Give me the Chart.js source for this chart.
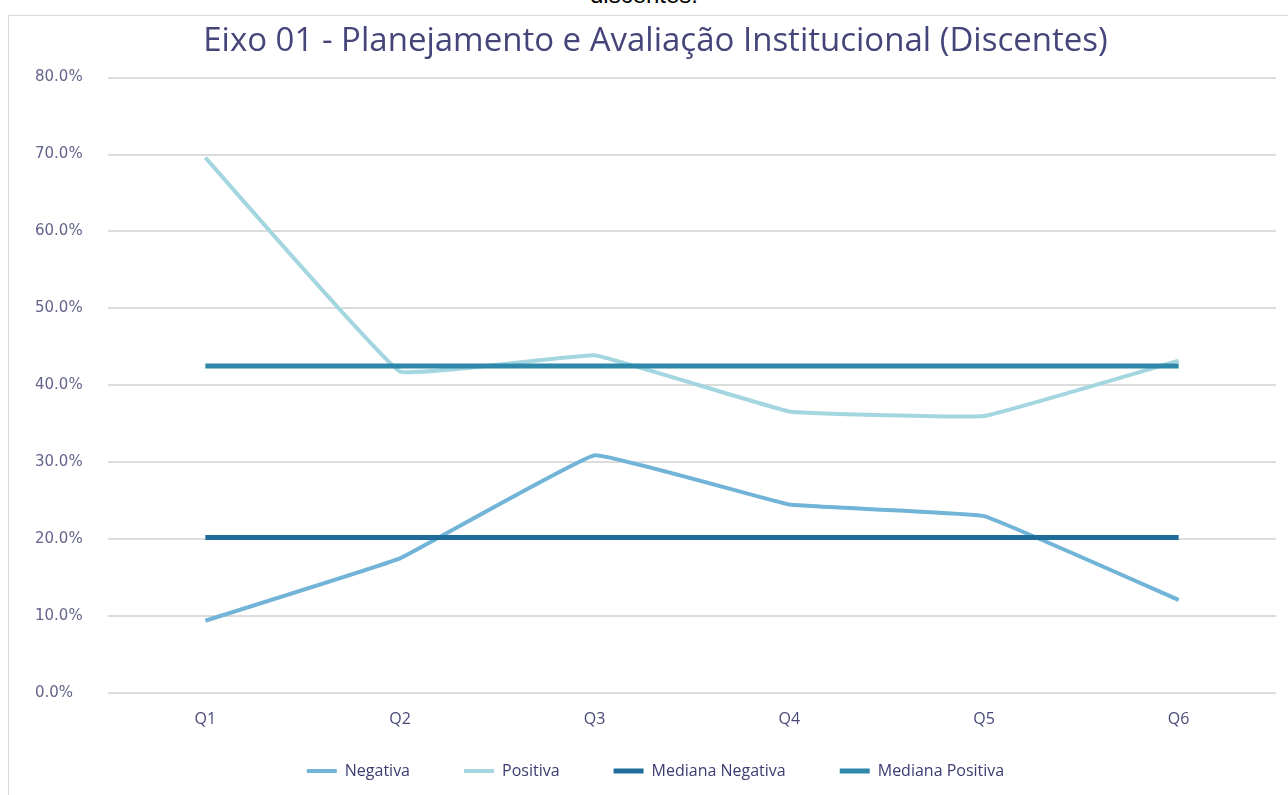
<!DOCTYPE html>
<html>
<head>
<meta charset="utf-8">
<script src="https://cdn.jsdelivr.net/npm/chart.js@4.4.1/dist/chart.umd.min.js"></script>
<style>
  html, body { margin: 0; padding: 0; background: #ffffff; width: 1288px; height: 795px; overflow: hidden; }
  #cap { position: absolute; left: 0; width: 1288px; top: -17px; text-align: center;
         font-family: "Liberation Sans", Arial, sans-serif; font-size: 24px; line-height: 24px; color: #000; }
  #frame { position: absolute; left: 8px; top: 15px; width: 1280px; height: 790px;
           border-left: 1px solid #d9d9d9; border-top: 1px solid #d9d9d9; box-sizing: border-box; }
  #wrap { position: absolute; left: 9px; top: 16px; width: 1279px; height: 779px; }
</style>
</head>
<body>
<div id="cap">discentes.</div>
<div id="frame"></div>
<div id="wrap"><canvas id="c" width="1279" height="779"></canvas></div>
<script>
const categories = ["Q1", "Q2", "Q3", "Q4", "Q5", "Q6"];
const negativa = [9.4, 17.5, 30.9, 24.5, 23.0, 12.1];
const positiva = [69.6, 41.8, 43.9, 36.6, 36.0, 43.2];
const medianaNegativa = [20.2, 20.2, 20.2, 20.2, 20.2, 20.2];
const medianaPositiva = [42.5, 42.5, 42.5, 42.5, 42.5, 42.5];
const seriesNames = ["Negativa", "Positiva", "Mediana Negativa", "Mediana Positiva"];
const titleText = "Eixo 01 - Planejamento e Avaliação Institucional (Discentes)";

const colors = ["#72b4d8", "#a3d6df", "#1f6c9b", "#2d88aa"];

// let x tick labels draw into the legend's (empty) top padding band
const noLabelClip = {
  id: "noLabelClip",
  afterLayout(chart) {
    if (chart.scales.x) chart.scales.x._computeLabelArea = () => undefined;
  }
};

new Chart(document.getElementById("c"), {
  type: "line",
  data: {
    labels: categories,
    datasets: [
      { label: seriesNames[0], data: negativa, borderColor: colors[0], backgroundColor: colors[0], borderWidth: 4, tension: 0.07, order: 1 },
      { label: seriesNames[1], data: positiva, borderColor: colors[1], backgroundColor: colors[1], borderWidth: 4, tension: 0.07, order: 1 },
      { label: seriesNames[2], data: medianaNegativa, borderColor: colors[2], backgroundColor: colors[2], borderWidth: 5, order: 0 },
      { label: seriesNames[3], data: medianaPositiva, borderColor: colors[3], backgroundColor: colors[3], borderWidth: 5, order: 0 }
    ]
  },
  plugins: [noLabelClip],
  options: {
    responsive: false,
    animation: false,
    devicePixelRatio: 1,
    elements: { point: { radius: 0, hoverRadius: 0 }, line: { borderCapStyle: "butt" } },
    layout: { padding: { left: 26, right: 12, top: 0, bottom: 6 } },
    plugins: {
      title: {
        display: true,
        text: titleText,
        color: "#45457a",
        font: { family: "'Open Sans', sans-serif", size: 33, weight: "normal" },
        padding: { top: 6, bottom: 16 }
      },
      legend: {
        position: "bottom",
        labels: {
          sort: (a, b) => a.datasetIndex - b.datasetIndex,
          usePointStyle: true,
          pointStyle: "line",
          pointStyleWidth: 30,
          boxWidth: 30,
          boxHeight: 4,
          color: "#3c3c72",
          padding: 54,
          font: { family: "'Open Sans', sans-serif", size: 16 }
        }
      },
      tooltip: { enabled: false }
    },
    scales: {
      x: {
        offset: true,
        grid: { display: false },
        border: { display: false },
        ticks: { color: "#4a4a7a", font: { family: "'Open Sans', sans-serif", size: 16 }, padding: 9 },
        afterFit: s => { s.height = 16; }
      },
      y: {
        min: 0,
        max: 80,
        grid: { color: "#dcdcdc", lineWidth: 2, drawTicks: false },
        border: { display: false },
        ticks: {
          stepSize: 10,
          crossAlign: "far",
          color: "#64648c",
          font: { family: "'DejaVu Sans', sans-serif", size: 15 },
          callback: v => v.toFixed(1) + "%"
        },
        afterFit: s => { s.width = 73; }
      }
    }
  }
});
</script>
</body>
</html>
